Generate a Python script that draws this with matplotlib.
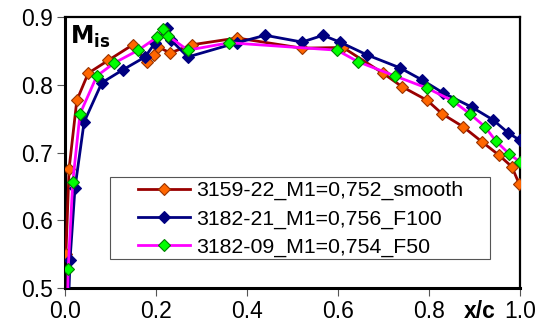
import matplotlib
matplotlib.use("Agg")
import matplotlib.pyplot as plt
from matplotlib.patches import Rectangle

plt.rcParams['font.family'] = ['Liberation Sans', 'DejaVu Sans']

# Series 1: 3159-22_M1=0,752_smooth
x_smooth = [0.002, 0.009, 0.026, 0.051, 0.095, 0.149, 0.180, 0.196, 0.204, 0.231,
            0.279, 0.378, 0.521, 0.611, 0.699, 0.741, 0.796, 0.829, 0.875, 0.916,
            0.954, 0.982, 0.998]
m_smooth = [0.550, 0.676, 0.777, 0.817, 0.836, 0.859, 0.834, 0.844, 0.856, 0.847,
            0.859, 0.869, 0.854, 0.855, 0.817, 0.797, 0.777, 0.757, 0.738, 0.716,
            0.696, 0.679, 0.654]

# Series 2: 3182-21_M1=0,756_F100
x_f100 = [0.004, 0.011, 0.022, 0.042, 0.081, 0.127, 0.176, 0.198, 0.224, 0.233,
          0.270, 0.378, 0.440, 0.521, 0.567, 0.604, 0.664, 0.736, 0.785, 0.831,
          0.894, 0.941, 0.974, 1.000]
m_f100 = [0.400, 0.541, 0.648, 0.745, 0.803, 0.822, 0.841, 0.862, 0.884, 0.866,
          0.841, 0.862, 0.873, 0.863, 0.873, 0.863, 0.844, 0.825, 0.807, 0.788,
          0.767, 0.748, 0.729, 0.718]

# Series 3: 3182-09_M1=0,754_F50
x_f50 = [0.003, 0.007, 0.017, 0.033, 0.070, 0.108, 0.161, 0.202, 0.216, 0.227,
         0.270, 0.361, 0.598, 0.644, 0.725, 0.796, 0.853, 0.890, 0.923, 0.947,
         0.976, 1.000]
m_f50 = [0.400, 0.528, 0.656, 0.757, 0.813, 0.832, 0.851, 0.870, 0.882, 0.872,
         0.851, 0.862, 0.851, 0.834, 0.813, 0.795, 0.776, 0.757, 0.738, 0.717,
         0.698, 0.686]

labels = ["3159-22_M1=0,752_smooth", "3182-21_M1=0,756_F100", "3182-09_M1=0,754_F50"]
x_ticks = [0.0, 0.2, 0.4, 0.6, 0.8, 1.0]
x_ticklabels = ["0.0", "0.2", "0.4", "0.6", "0.8", "1.0"]
y_ticks = [0.5, 0.6, 0.7, 0.8, 0.9]
y_ticklabels = ["0.5", "0.6", "0.7", "0.8", "0.9"]

W, H = 538, 333
fig = plt.figure(figsize=(W/100, H/100), dpi=100)
ax = fig.add_axes([65/W, 1-288/H, (520-65)/W, (288-17)/H])

ms = 6.5
ax.plot(x_smooth, m_smooth, color='#990000', lw=2.0, marker='D', ms=ms,
        mfc='#FF6600', mec='#993300', mew=0.8, label=labels[0], zorder=3)
ax.plot(x_f100, m_f100, color='#000080', lw=2.0, marker='D', ms=ms,
        mfc='#000080', mec='#000080', mew=0.8, label=labels[1], zorder=4)
ax.plot(x_f50, m_f50, color='#FF00FF', lw=2.0, marker='D', ms=ms,
        mfc='#00FF00', mec='#008000', mew=0.8, label=labels[2], zorder=5)

ax.set_xlim(0, 1.0)
ax.set_ylim(0.5, 0.9)
ax.set_xticks(x_ticks)
ax.set_xticklabels(x_ticklabels)
ax.set_yticks(y_ticks)
ax.set_yticklabels(y_ticklabels)
ax.tick_params(axis='both', direction='out', length=6, width=0.8, color='#555555',
               labelsize=16.5, pad=3)

for side in ['left', 'bottom']:
    ax.spines[side].set_linewidth(2.2)
for side in ['top', 'right']:
    ax.spines[side].set_linewidth(1.6)
for s in ax.spines.values():
    s.set_color('black')

ax.text(0.012, 0.975, r'$\mathbf{M}_{\mathbf{is}}$', transform=ax.transAxes,
        ha='left', va='top', fontsize=17, fontweight='bold')
fig.text(480/W, 1-312/H, 'x/c', ha='center', va='center',
         fontsize=16.5, fontweight='bold')

# legend frame (drawn separately for the wide side padding of the original)
frame = Rectangle((110/W, 1-259/H), 380/W, 82/H, transform=fig.transFigure,
                  facecolor='white', edgecolor='#555555', lw=0.8, zorder=6,
                  clip_on=False)
ax.add_patch(frame)

leg = ax.legend(loc='upper left', bbox_to_anchor=(138/W, 1-181/H),
                bbox_transform=fig.transFigure,
                fontsize=15.3, frameon=False, numpoints=1,
                handlelength=2.45, borderpad=0, labelspacing=0.43,
                handletextpad=0.28, borderaxespad=0)
leg.set_zorder(7)

fig.savefig('out.png', dpi=100)
